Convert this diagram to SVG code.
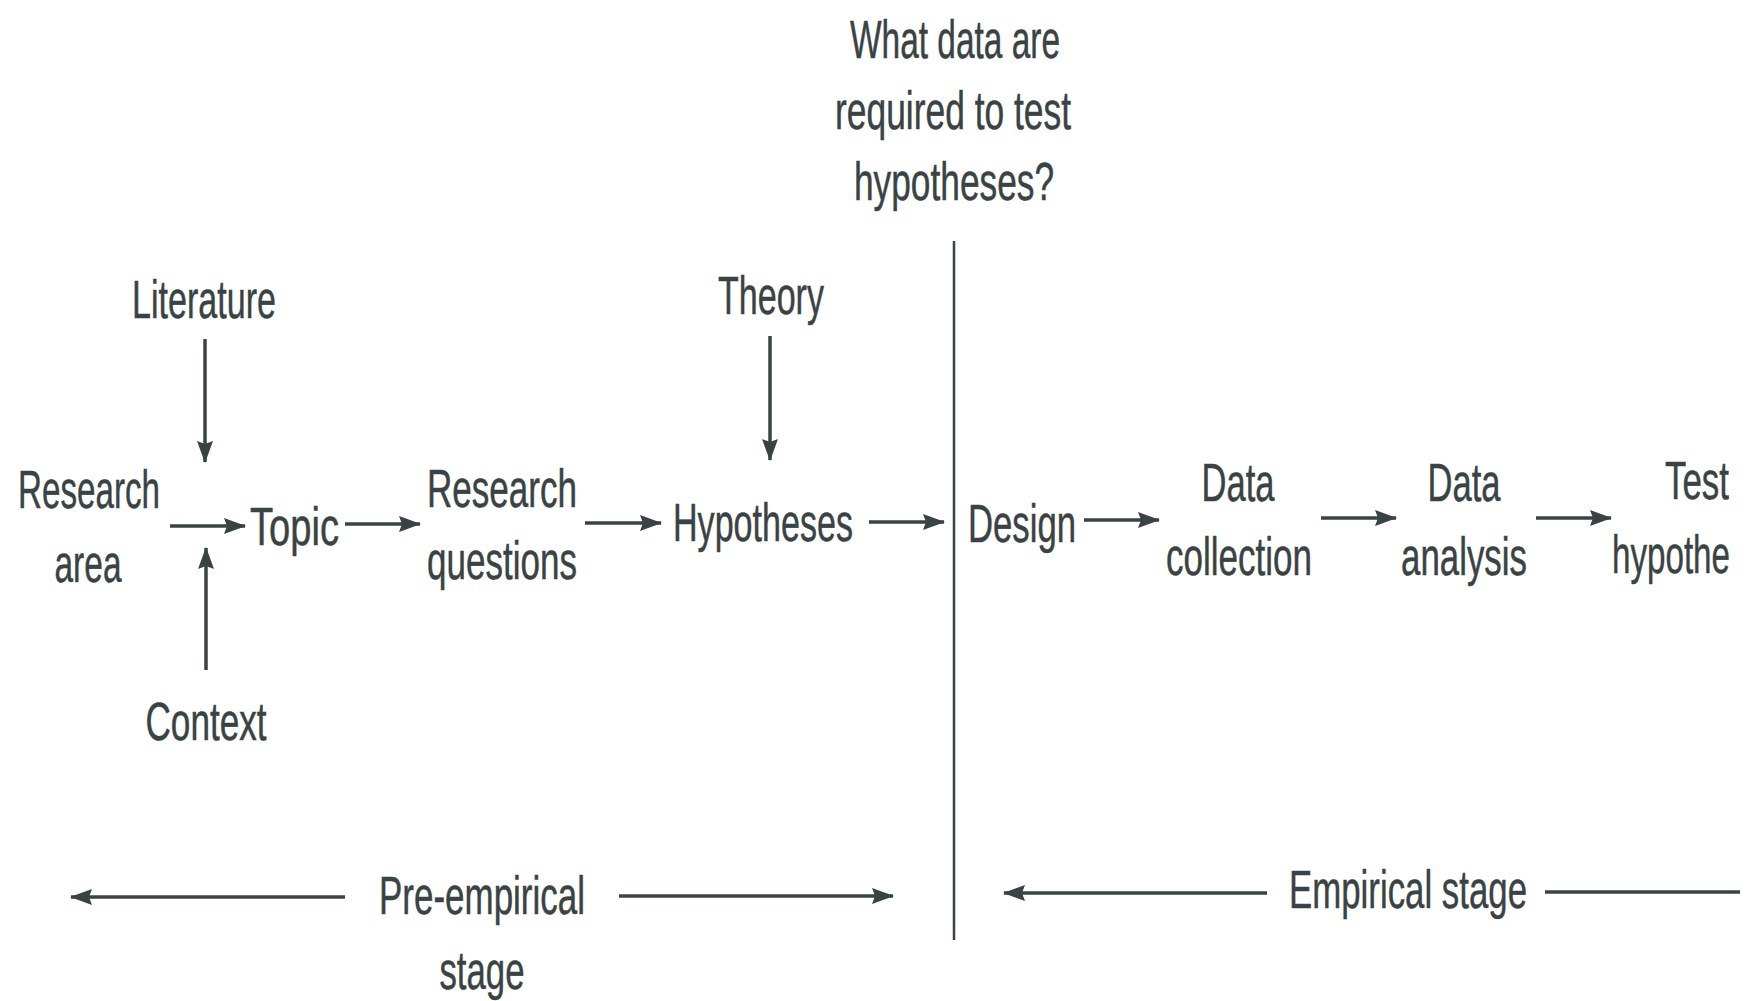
<svg xmlns="http://www.w3.org/2000/svg" width="1758" height="1001" viewBox="0 0 1758 1001">
<defs>
<style>
text{font-family:"Liberation Sans Narrow","Liberation Sans",Arial,sans-serif;font-size:54px;fill:#3a4343;stroke:#3a4343;stroke-width:0.5}
.c{text-anchor:middle}
.e{text-anchor:end}
.ln{stroke:#3a4343;stroke-width:3.5;fill:none}
</style>
<marker id="ah" markerUnits="userSpaceOnUse" markerWidth="22" markerHeight="16" refX="21" refY="8" orient="auto">
<path d="M0,0 L22,8 L0,16 L3,8 z" fill="#3a4343"/>
</marker>
</defs>
<rect width="1758" height="1001" fill="#ffffff"/>
<g id="question">
<text class="c" x="955" y="58" textLength="210" lengthAdjust="spacingAndGlyphs">What data are</text>
<text class="c" x="953" y="129" textLength="236" lengthAdjust="spacingAndGlyphs">required to test</text>
<text class="c" x="954" y="200" textLength="200" lengthAdjust="spacingAndGlyphs">hypotheses?</text>
</g>
<g id="literature"><text class="c" x="204" y="318" textLength="144" lengthAdjust="spacingAndGlyphs">Literature</text></g>
<g id="theory"><text class="c" x="771" y="314" textLength="106" lengthAdjust="spacingAndGlyphs">Theory</text></g>
<g id="research-area">
<text class="c" x="89" y="508" textLength="142" lengthAdjust="spacingAndGlyphs">Research</text>
<text class="c" x="88" y="582" textLength="67" lengthAdjust="spacingAndGlyphs">area</text>
</g>
<g id="topic"><text x="250" y="545" textLength="89" lengthAdjust="spacingAndGlyphs">Topic</text></g>
<g id="research-questions">
<text x="427" y="507" textLength="150" lengthAdjust="spacingAndGlyphs">Research</text>
<text x="427" y="579" textLength="150" lengthAdjust="spacingAndGlyphs">questions</text>
</g>
<g id="hypotheses"><text x="673" y="541" textLength="180" lengthAdjust="spacingAndGlyphs">Hypotheses</text></g>
<g id="design"><text x="968" y="542" textLength="108" lengthAdjust="spacingAndGlyphs">Design</text></g>
<g id="data-collection">
<text class="c" x="1238" y="501" textLength="73" lengthAdjust="spacingAndGlyphs">Data</text>
<text class="c" x="1239" y="575" textLength="146" lengthAdjust="spacingAndGlyphs">collection</text>
</g>
<g id="data-analysis">
<text class="c" x="1464" y="501" textLength="73" lengthAdjust="spacingAndGlyphs">Data</text>
<text class="c" x="1464" y="575" textLength="126" lengthAdjust="spacingAndGlyphs">analysis</text>
</g>
<g id="test-hypotheses">
<text class="e" x="1729" y="499" textLength="64" lengthAdjust="spacingAndGlyphs">Test</text>
<text class="e" x="1730" y="573" textLength="118" lengthAdjust="spacingAndGlyphs">hypothe</text>
</g>
<g id="context"><text class="c" x="206" y="740" textLength="121" lengthAdjust="spacingAndGlyphs">Context</text></g>
<g id="pre-empirical">
<text x="379" y="914" textLength="206" lengthAdjust="spacingAndGlyphs">Pre-empirical</text>
<text class="c" x="482" y="989" textLength="85" lengthAdjust="spacingAndGlyphs">stage</text>
</g>
<g id="empirical"><text x="1289" y="908" textLength="238" lengthAdjust="spacingAndGlyphs">Empirical stage</text></g>
<g id="connectors">
<line class="ln" x1="954" y1="241" x2="954" y2="940" style="stroke-width:2.5"/>
<line class="ln" x1="170" y1="526" x2="245" y2="526" marker-end="url(#ah)"/>
<line class="ln" x1="205" y1="339" x2="205" y2="462" marker-end="url(#ah)"/>
<line class="ln" x1="206" y1="670" x2="206" y2="548" marker-end="url(#ah)"/>
<line class="ln" x1="345" y1="524" x2="420" y2="524" marker-end="url(#ah)"/>
<line class="ln" x1="585" y1="523" x2="661" y2="523" marker-end="url(#ah)"/>
<line class="ln" x1="770" y1="336" x2="770" y2="460" marker-end="url(#ah)"/>
<line class="ln" x1="869" y1="522" x2="944" y2="522" marker-end="url(#ah)"/>
<line class="ln" x1="1084" y1="520" x2="1159" y2="520" marker-end="url(#ah)"/>
<line class="ln" x1="1321" y1="518" x2="1396" y2="518" marker-end="url(#ah)"/>
<line class="ln" x1="1536" y1="518" x2="1611" y2="518" marker-end="url(#ah)"/>
<line class="ln" x1="345" y1="897" x2="71" y2="897" marker-end="url(#ah)"/>
<line class="ln" x1="619" y1="896" x2="893" y2="896" marker-end="url(#ah)"/>
<line class="ln" x1="1267" y1="893" x2="1004" y2="893" marker-end="url(#ah)"/>
<line class="ln" x1="1545" y1="892" x2="1740" y2="892"/>
</g>
</svg>
